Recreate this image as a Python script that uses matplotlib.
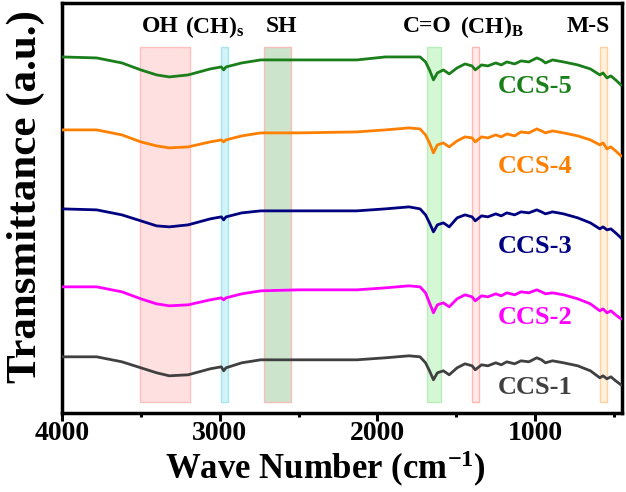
import matplotlib
matplotlib.use("Agg")
import matplotlib.pyplot as plt
import numpy as np

plt.rcParams['font.family'] = ['Liberation Serif', 'DejaVu Serif']
plt.rcParams['font.weight'] = 'bold'
plt.rcParams['mathtext.fontset'] = 'custom'
plt.rcParams['mathtext.rm'] = 'Liberation Serif:bold'
plt.rcParams['mathtext.bf'] = 'Liberation Serif:bold'
plt.rcParams['mathtext.it'] = 'Liberation Serif:bold'
plt.rcParams['mathtext.default'] = 'bf'

# wave numbers (cm-1) shared by all spectra
wn = [4000, 3780, 3620, 3500, 3400, 3320, 3200, 3060, 2990, 2975, 2960, 2860, 2740,
      2500, 2130, 1950, 1800, 1730, 1695, 1670, 1645, 1620, 1582, 1545, 1495, 1445,
      1400, 1380, 1340, 1300, 1250, 1215, 1180, 1130, 1090, 1040, 990, 960, 935, 890,
      820, 730, 650, 590, 570, 545, 520, 490, 456]

# transmittance (a.u., already stacked)
ccs5 = [3.56, 3.55, 3.50, 3.43, 3.38, 3.36, 3.38, 3.44, 3.46, 3.43, 3.46, 3.50, 3.53,
        3.53, 3.53, 3.56, 3.56, 3.56, 3.51, 3.43, 3.33, 3.40, 3.43, 3.39, 3.45, 3.49,
        3.47, 3.43, 3.48, 3.47, 3.50, 3.48, 3.51, 3.49, 3.52, 3.51, 3.55, 3.53, 3.50, 3.53,
        3.51, 3.48, 3.44, 3.38, 3.40, 3.35, 3.37, 3.33, 3.28]
ccs4 = [2.83, 2.83, 2.78, 2.71, 2.67, 2.65, 2.66, 2.71, 2.73, 2.71, 2.73, 2.77, 2.80,
        2.80, 2.81, 2.83, 2.85, 2.84, 2.78, 2.70, 2.60, 2.68, 2.70, 2.66, 2.72, 2.76,
        2.75, 2.71, 2.76, 2.75, 2.78, 2.76, 2.79, 2.77, 2.81, 2.80, 2.84, 2.82, 2.80, 2.82,
        2.80, 2.77, 2.73, 2.68, 2.70, 2.64, 2.66, 2.62, 2.57]
ccs3 = [2.04, 2.03, 1.98, 1.92, 1.87, 1.86, 1.88, 1.94, 1.96, 1.93, 1.96, 2.00, 2.02,
        2.02, 2.02, 2.04, 2.06, 2.04, 1.98, 1.90, 1.81, 1.88, 1.90, 1.86, 1.95, 1.98,
        1.96, 1.92, 1.97, 1.96, 1.99, 1.97, 2.00, 1.98, 2.01, 2.00, 2.03, 2.01, 1.99, 2.01,
        1.99, 1.95, 1.90, 1.84, 1.86, 1.83, 1.84, 1.80, 1.75]
ccs2 = [1.26, 1.26, 1.21, 1.14, 1.09, 1.07, 1.08, 1.13, 1.15, 1.13, 1.15, 1.19, 1.22,
        1.23, 1.23, 1.25, 1.27, 1.26, 1.20, 1.10, 1.00, 1.08, 1.10, 1.06, 1.14, 1.18,
        1.16, 1.12, 1.17, 1.16, 1.19, 1.17, 1.20, 1.18, 1.21, 1.20, 1.23, 1.21, 1.19, 1.20,
        1.18, 1.14, 1.09, 1.02, 1.04, 1.00, 1.02, 0.98, 0.94]
ccs1 = [0.56, 0.56, 0.51, 0.45, 0.40, 0.37, 0.38, 0.44, 0.46, 0.42, 0.45, 0.50, 0.53,
        0.53, 0.53, 0.55, 0.57, 0.56, 0.50, 0.42, 0.33, 0.40, 0.42, 0.38, 0.45, 0.49,
        0.47, 0.43, 0.48, 0.47, 0.50, 0.48, 0.51, 0.49, 0.52, 0.51, 0.55, 0.53, 0.50, 0.52,
        0.50, 0.47, 0.42, 0.35, 0.37, 0.34, 0.36, 0.32, 0.28]

names = ['CCS-1', 'CCS-2', 'CCS-3', 'CCS-4', 'CCS-5']
series = [ccs1, ccs2, ccs3, ccs4, ccs5]
colors = ['#404040', '#ff00ff', '#000080', '#ff8000', '#1a7f1a']
label_y = [0.25, 0.95, 1.66, 2.46, 3.26]

# highlighted bands (start, end) in cm-1
bands = [(3505, 3188), (2992, 2945), (2720, 2545), (1685, 1600), (1400, 1355), (590, 542)]
band_face = ['#ffe0e0', '#d0f4f8', '#cce3cc', '#d4f7d4', '#ffeaea', '#fff0dc']
band_edge = ['#ffc0c0', '#a8e4ee', '#f4c0b8', '#b8eeb8', '#ffb8b0', '#ffd0a0']

band_text = ['OH', '(CH)$_{s}$', 'SH', 'C=O', '(CH)$_{B}$', 'M-S']
band_text_x = [3379, 3035, 2611, 1686, 1273, 665]

fig = plt.figure(figsize=(6.26, 4.92), dpi=100)
ax = fig.add_axes([0.099, 0.161, 0.895, 0.833])

for (a, b), fc, ec in zip(bands, band_face, band_edge):
    ax.axvspan(b, a, ymin=0.027, ymax=0.893, facecolor=fc, edgecolor=ec, lw=1.0, zorder=1)

for name, s, c, ly in zip(names, series, colors, label_y):
    ax.plot(wn, s, color=c, lw=2.0, zorder=3)
    ax.text(1000, ly, name, color=c, fontsize=19, fontweight='bold', ha='center', va='center')

for t, x in zip(band_text, band_text_x):
    ax.text(x, 3.86, t, fontsize=17, fontweight='bold', ha='center', va='center')

ax.set_xlim(4000, 448)
ax.set_ylim(0, 4.10)
ax.set_yticks([])
ax.set_xticks([4000, 3000, 2000, 1000])
ax.set_xticks([3500, 2500, 1500, 500], minor=True)
ax.tick_params(axis='x', which='major', direction='out', length=6, width=2.2, labelsize=20, pad=0)
ax.tick_params(axis='x', which='minor', direction='out', length=3, width=2.2)
for sp in ax.spines.values():
    sp.set_linewidth(2.5)

ax.set_ylabel('Transmittance (a.u.)', fontsize=31, fontweight='bold')
ax.yaxis.set_label_coords(-0.03, 0.527)
ax.set_xlabel('Wave Number $(cm^{-1})$', fontsize=25, fontweight='bold')
ax.xaxis.set_label_coords(0.47, -0.087)

fig.savefig('out.png', dpi=100)
